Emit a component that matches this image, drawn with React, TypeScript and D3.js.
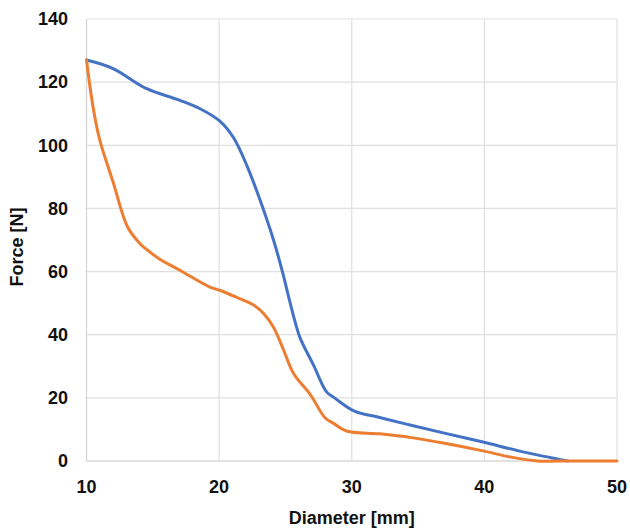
import React from "react";
import * as d3 from "d3";

const blueD = [10, 12, 14.5, 17, 18.6, 20.1, 21.1, 22.1, 23.1, 24.1, 24.8, 25.3, 25.8, 26.1, 27.1, 28.1, 28.7, 30.2, 32.1, 34.4, 36.9, 39.9, 42.9, 46.3];
const blueF = [127, 124.3, 118, 114.3, 111.5, 107.5, 102.3, 93.5, 82.5, 70, 59.5, 51, 43, 39, 30.5, 21.9, 20, 15.8, 13.8, 11.4, 8.9, 6.0, 2.9, 0];

const orangeD = [10, 10.5, 11.0, 12.0, 13.1, 14.0, 14.6, 15.5, 17.0, 19.3, 20.1, 21.5, 22.6, 23.4, 24.1, 24.8, 25.6, 26.9, 28.0, 28.6, 29.6, 32.1, 34.5, 36.9, 39.9, 41.9, 44.0, 45.5, 50];
const orangeF = [127, 112, 101.7, 88.4, 74.1, 69, 66.8, 64, 60.5, 55.1, 54, 51.5, 49.4, 46.5, 42.4, 35.8, 27.8, 20.9, 13.6, 12, 9.5, 8.6, 7.4, 5.7, 3.2, 1.3, 0, 0, 0];

const xTicks = [10, 20, 30, 40, 50];
const yTicks = [0, 20, 40, 60, 80, 100, 120, 140];

const W = 630;
const H = 529;
const M = { left: 86.5, right: 617, top: 19, bottom: 461 };

export default function App() {
  const x = d3.scaleLinear().domain([10, 50]).range([M.left, M.right]);
  const y = d3.scaleLinear().domain([0, 140]).range([M.bottom, M.top]);
  const line = d3
    .line<[number, number]>()
    .x((d) => x(d[0]))
    .y((d) => y(d[1]))
    .curve(d3.curveCatmullRom.alpha(0.5));
  const blue = blueD.map((d, i) => [d, blueF[i]] as [number, number]);
  const orange = orangeD.map((d, i) => [d, orangeF[i]] as [number, number]);
  const font = "'Liberation Sans', Arial, sans-serif";
  return (
    <svg
      width={W}
      height={H}
      style={{ position: "absolute", left: 0, top: 0, background: "#fff" }}
    >
      <rect x={0} y={0} width={W} height={H} fill="#fff" />
      {yTicks.map((t) => (
        <line key={"gy" + t} x1={M.left} x2={M.right} y1={y(t)} y2={y(t)} stroke="#e0e0e0" strokeWidth={1.2} />
      ))}
      {xTicks.map((t) => (
        <line key={"gx" + t} x1={x(t)} x2={x(t)} y1={M.top} y2={M.bottom} stroke="#e0e0e0" strokeWidth={1.2} />
      ))}
      <line x1={M.left} x2={M.left} y1={M.top} y2={M.bottom} stroke="#d6d6d6" strokeWidth={1.2} />
      <line x1={M.left} x2={M.right} y1={M.bottom} y2={M.bottom} stroke="#d6d6d6" strokeWidth={1.2} />
      <path d={line(blue) || ""} fill="none" stroke="#4472C4" strokeWidth={3} strokeLinejoin="round" strokeLinecap="round" />
      <path d={line(orange) || ""} fill="none" stroke="#ED7D31" strokeWidth={3} strokeLinejoin="round" strokeLinecap="round" />
      {yTicks.map((t) => (
        <text key={"ty" + t} x={68} y={y(t)} dy="0.35em" textAnchor="end" fontFamily={font} fontWeight="bold" fontSize={18} fill="#111">
          {t}
        </text>
      ))}
      {xTicks.map((t) => (
        <text key={"tx" + t} x={x(t)} y={493} textAnchor="middle" fontFamily={font} fontWeight="bold" fontSize={18} fill="#111">
          {t}
        </text>
      ))}
      <text x={(M.left + M.right) / 2} y={524} textAnchor="middle" fontFamily={font} fontWeight="bold" fontSize={18} fill="#111">
        Diameter [mm]
      </text>
      <text
        transform={`translate(23, 247) rotate(-90)`}
        textAnchor="middle"
        fontFamily={font}
        fontWeight="bold"
        fontSize={18}
        fill="#111"
      >
        Force [N]
      </text>
    </svg>
  );
}
